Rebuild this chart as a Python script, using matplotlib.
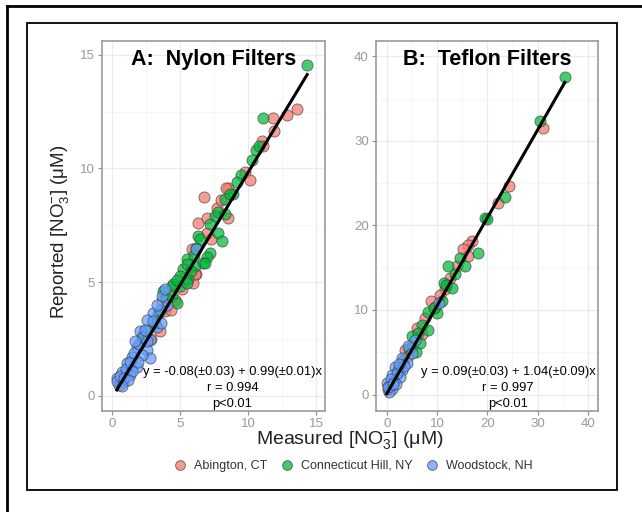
import matplotlib
matplotlib.use("Agg")
import matplotlib.pyplot as plt
from matplotlib.lines import Line2D
from matplotlib.patches import Rectangle

plt.rcParams['font.family'] = ['Liberation Sans', 'DejaVu Sans']
plt.rcParams['mathtext.fontset'] = 'custom'
plt.rcParams['mathtext.rm'] = 'Liberation Sans'
plt.rcParams['mathtext.it'] = 'Liberation Sans:italic'

sites = ['Abington, CT', 'Connecticut Hill, NY', 'Woodstock, NH']
site_colors = ['#F8766D', '#00BA38', '#619CFF']

# Panel A: nylon filters (measured, reported)
nylon_ab_x = [13.6, 12.9, 11.8, 11.9, 11.05, 11.1, 9.8, 10.15, 8.55, 8.4, 6.76, 7.7, 8.55, 6.35, 6.96,
              5.86, 6.2, 5.98, 6.1, 5.12, 3.65, 3.9, 3.53, 7.3, 4.6, 2.9, 4.3, 7.0, 8.0]
nylon_ab_y = [12.6, 12.35, 12.2, 11.65, 11.2, 11.0, 9.85, 9.5, 9.13, 9.16, 8.75, 8.28, 7.8, 7.6, 7.17,
              6.44, 5.34, 4.97, 5.34, 4.68, 4.16, 3.72, 2.84, 6.9, 4.2, 2.5, 3.8, 7.8, 8.6]
nylon_ch_x = [14.35, 11.08, 10.6, 10.3, 8.9, 8.3, 8.7, 7.57, 7.8, 7.2, 6.35, 8.3, 7.8, 6.47, 8.06,
              6.2, 7.2, 7.0, 5.5, 6.1, 6.7, 5.24, 5.0, 5.6, 4.4, 5.0, 5.5, 6.84, 4.5, 5.5,
              3.77, 4.39, 4.76, 3.16, 2.18, 9.5, 10.8, 9.2, 4.0, 6.0, 5.8, 4.8, 3.4, 2.6]
nylon_ch_y = [14.53, 12.2, 10.8, 10.35, 8.87, 8.67, 8.87, 7.9, 8.1, 7.57, 7.03, 7.98, 7.17, 6.88, 6.8,
              6.5, 6.3, 6.1, 6.0, 5.7, 5.85, 5.56, 5.26, 5.12, 4.82, 4.82, 5.78, 5.85, 4.9, 4.97,
              4.6, 4.38, 4.09, 3.2, 2.62, 9.7, 11.0, 9.4, 4.3, 6.2, 5.5, 5.1, 3.6, 2.9]
nylon_wo_x = [6.2, 3.04, 4.02, 2.55, 3.3, 2.06, 2.8, 1.82, 2.55, 1.45, 2.8, 1.08, 1.82, 0.71, 1.32,
              0.35, 0.83, 0.5, 0.4, 0.6, 1.0, 1.3, 1.6, 2.0, 2.3, 2.6, 3.0, 3.5, 3.7, 3.3,
              2.2, 1.5, 0.9, 1.2, 2.4, 1.7, 3.6, 3.9, 1.9, 0.7]
nylon_wo_y = [6.44, 3.65, 4.0, 3.35, 3.03, 2.84, 2.47, 2.17, 2.03, 1.73, 1.66, 1.44, 1.29, 1.07, 0.93,
              0.78, 0.63, 0.5, 0.65, 0.9, 1.2, 1.5, 1.9, 2.3, 2.6, 2.4, 3.3, 3.8, 4.4, 4.0,
              1.8, 1.1, 0.8, 0.7, 2.9, 2.4, 3.2, 4.7, 1.5, 0.45]

# Panel B: teflon filters
teflon_ab_x = [31.0, 24.4, 22.2, 16.9, 16.2, 15.2, 16.2, 13.9, 8.9, 9.6, 7.6, 6.0, 3.6, 11.5, 12.5,
               10.5, 5.0, 7.0, 2.5, 4.3]
teflon_ab_y = [31.5, 24.7, 22.7, 18.2, 17.7, 17.15, 16.4, 15.2, 11.0, 10.4, 9.05, 7.86, 5.3, 12.5, 13.8,
               11.8, 5.6, 7.2, 3.2, 4.6]
teflon_ch_x = [35.4, 30.5, 23.5, 19.5, 19.9, 18.2, 14.6, 12.2, 15.5, 13.6, 11.3, 12.9, 10.9, 8.3, 10.0,
               7.0, 8.3, 5.0, 6.6, 5.8, 11.8, 9.3, 6.2, 4.5, 3.2, 2.2]
teflon_ch_y = [37.5, 32.3, 23.4, 20.9, 20.7, 16.7, 16.2, 15.25, 15.2, 14.2, 13.2, 12.6, 11.0, 9.8, 9.6,
               8.26, 7.66, 6.87, 6.08, 5.0, 12.9, 10.2, 7.3, 5.5, 4.1, 2.9]
teflon_wo_x = [10.3, 5.6, 4.3, 5.0, 3.0, 4.0, 1.65, 3.0, 1.0, 2.6, 0.0, 0.5, 0.2, 1.0, 0.4,
               1.5, 2.0, 0.8, 1.8, 3.5, 2.4, 0.3, 1.2]
teflon_wo_y = [10.8, 6.48, 5.7, 4.9, 4.3, 3.7, 3.3, 2.9, 2.3, 2.1, 1.34, 1.0, 0.6, 0.7, 0.3,
               1.6, 2.6, 1.8, 1.2, 3.4, 3.6, 0.9, 1.3]

# regression results printed on the panels
nylon_fit = (-0.08, 0.99)
teflon_fit = (0.09, 1.04)
nylon_stats = ['y = -0.08(\u00b10.03) + 0.99(\u00b10.01)x', 'r = 0.994', 'p<0.01']
teflon_stats = ['y = 0.09(\u00b10.03) + 1.04(\u00b10.09)x', 'r = 0.997', 'p<0.01']

nylon_ticks = [0, 5, 10, 15]
teflon_ticks = [0, 10, 20, 30, 40]

W, H = 642, 512
fig = plt.figure(figsize=(W / 100, H / 100), dpi=100)

# outer and inner frames
fig.add_artist(Line2D([7 / W, 1], [1 - 6 / H, 1 - 6 / H], color='black', lw=2))
fig.add_artist(Line2D([7 / W, 7 / W], [0, 1 - 6 / H], color='black', lw=2))
fig.add_artist(Rectangle((27 / W, 1 - 490 / H), (617 - 27) / W, (490 - 23) / H,
                         fill=False, ec='black', lw=1.3))


def panel(rect, data, fit, stats, ticks, minor, xlim, ylim, title, tx):
    ax = fig.add_axes(rect)
    for (xs, ys), c in zip(data, site_colors):
        ax.scatter(xs, ys, s=64, color=c, alpha=0.72, edgecolors='#3a3a3a',
                   linewidths=0.6, zorder=3)
    allx = [v for xs, _ in data for v in xs]
    x0, x1 = min(allx), max(allx)
    ax.plot([x0, x1], [fit[0] + fit[1] * x0, fit[0] + fit[1] * x1],
            color='black', lw=2.2, zorder=4)
    ax.set_xlim(xlim)
    ax.set_ylim(ylim)
    ax.set_xticks(ticks)
    ax.set_yticks(ticks)
    ax.set_xticks(minor, minor=True)
    ax.set_yticks(minor, minor=True)
    ax.grid(True, which='major', color='#EBEBEB', lw=0.9, zorder=0)
    ax.grid(True, which='minor', color='#F5F5F5', lw=0.6, zorder=0)
    ax.set_axisbelow(True)
    ax.tick_params(which='major', length=3, color='#8C8C8C', labelcolor='#9A9A9A',
                   labelsize=9.5, pad=2)
    ax.tick_params(which='minor', length=0)
    for sp in ax.spines.values():
        sp.set_color('#9A9A9A')
        sp.set_linewidth(1.2)
    ax.text(0.5, 0.951, title, transform=ax.transAxes, ha='center', va='center',
            fontsize=15.5, fontweight='bold')
    for i, line in enumerate(stats):
        ax.text(tx, 0.105 - i * 0.0435, line, transform=ax.transAxes,
                ha='center', va='center', fontsize=9.3, zorder=5)
    return ax


nylon_data = [(nylon_ab_x, nylon_ab_y), (nylon_ch_x, nylon_ch_y), (nylon_wo_x, nylon_wo_y)]
teflon_data = [(teflon_ab_x, teflon_ab_y), (teflon_ch_x, teflon_ch_y), (teflon_wo_x, teflon_wo_y)]

bot = 1 - 411 / H
hgt = (411 - 41) / H
panel([101.7 / W, bot, 223.3 / W, hgt], nylon_data, nylon_fit, nylon_stats,
      nylon_ticks, [2.5, 7.5, 12.5], (-0.76, 15.66), (-0.66, 15.6),
      'A:  Nylon Filters', 0.586)
panel([375.7 / W, bot, 222.3 / W, hgt], teflon_data, teflon_fit, teflon_stats,
      teflon_ticks, [5, 15, 25, 35], (-2.19, 42.0), (-1.95, 41.8),
      'B:  Teflon Filters', 0.596)

fig.text(350 / W, 1 - 440 / H, 'Measured [NO$_3^{-}$] (\u03bcM)', ha='center', va='center',
         fontsize=14, color='#222222')
fig.text(60 / W, 1 - 232 / H, 'Reported [NO$_3^{-}$] (\u03bcM)', ha='center', va='center',
         rotation=90, fontsize=13.5, color='#222222')

handles = [Line2D([], [], marker='o', ls='', markersize=7, markerfacecolor=c, alpha=0.75,
                  markeredgecolor='#333333', markeredgewidth=0.6) for c in site_colors]
fig.legend(handles, sites, loc='center', bbox_to_anchor=(350 / W, 1 - 466 / H), ncol=3,
           frameon=False, fontsize=9, handletextpad=0.1, columnspacing=0.6,
           labelcolor='#333333')

fig.savefig('out.png', dpi=100)
